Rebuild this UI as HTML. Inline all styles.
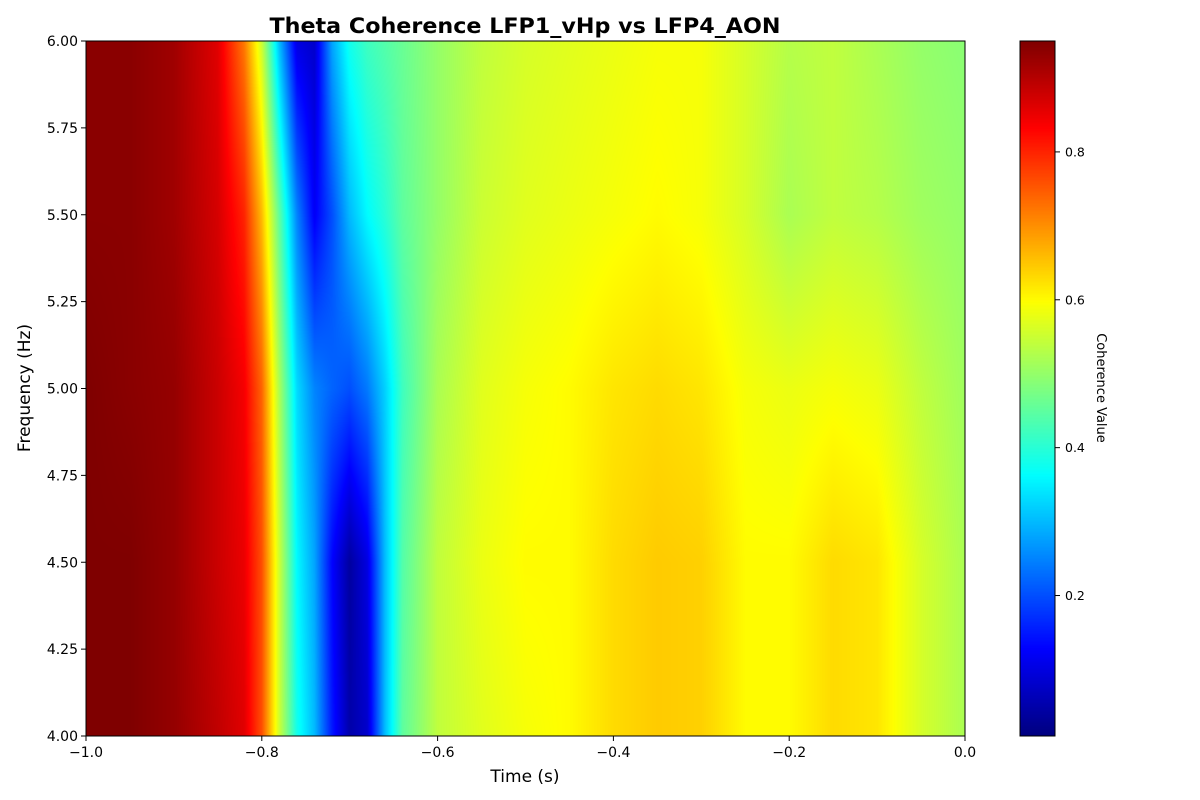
<!DOCTYPE html>
<html><head><meta charset="utf-8">
<style>
html,body{margin:0;padding:0;background:#fff;}
#wrap{position:relative;width:1200px;height:800px;font-family:"DejaVu Sans","Liberation Sans",sans-serif;}
canvas{position:absolute;}
svg{position:absolute;left:0;top:0;font-family:"DejaVu Sans","Liberation Sans",sans-serif;}
</style></head>
<body>
<div id="wrap">
<canvas id="hm" width="879" height="695" style="left:86px;top:41px;"></canvas>
<canvas id="cb" width="35" height="695" style="left:1020px;top:41px;"></canvas>
<svg id="ax" width="1200" height="800"></svg>
</div>
<script>
const times = [-1.0,-0.95,-0.9,-0.85,-0.82,-0.8,-0.78,-0.76,-0.74,-0.72,-0.7,-0.68,-0.66,-0.64,-0.6,-0.55,-0.5,-0.45,-0.4,-0.35,-0.3,-0.25,-0.2,-0.15,-0.1,-0.05,0];
const freqs = [4.0,4.5,5.0,5.5,6.0];
const row40 = [0.95,0.95,0.93,0.89,0.86,0.76,0.55,0.38,0.3,0.15,0.05,0.08,0.3,0.45,0.54,0.57,0.59,0.6,0.63,0.645,0.64,0.6,0.6,0.63,0.62,0.56,0.52];
const row45 = [0.95,0.95,0.93,0.88,0.85,0.76,0.55,0.36,0.28,0.13,0.04,0.1,0.3,0.44,0.54,0.58,0.6,0.6,0.63,0.645,0.64,0.6,0.6,0.63,0.62,0.56,0.52];
const row50 = [0.95,0.94,0.93,0.88,0.84,0.74,0.52,0.33,0.25,0.22,0.2,0.24,0.32,0.42,0.52,0.57,0.59,0.6,0.62,0.63,0.62,0.59,0.58,0.59,0.58,0.54,0.51];
const row55 = [0.94,0.94,0.92,0.87,0.8,0.66,0.45,0.25,0.12,0.2,0.3,0.36,0.4,0.45,0.5,0.55,0.57,0.58,0.59,0.6,0.59,0.56,0.52,0.54,0.53,0.51,0.5];
const row60 = [0.94,0.94,0.92,0.86,0.72,0.55,0.3,0.1,0.08,0.28,0.38,0.42,0.44,0.46,0.5,0.54,0.56,0.57,0.58,0.59,0.59,0.56,0.53,0.54,0.52,0.5,0.49];
const xTicks = [-1.0,-0.8,-0.6,-0.4,-0.2,0.0];
const xTickLabels = ["−1.0","−0.8","−0.6","−0.4","−0.2","0.0"];
const yTicks = [4.0,4.25,4.5,4.75,5.0,5.25,5.5,5.75,6.0];
const yTickLabels = ["4.00","4.25","4.50","4.75","5.00","5.25","5.50","5.75","6.00"];
const cTicks = [0.2,0.4,0.6,0.8];
const cTickLabels = ["0.2","0.4","0.6","0.8"];
const vmin = 0.01, vmax = 0.95;

const rows = [row40,row45,row50,row55,row60];
const PL=86,PT=41,PW=879,PH=695;
const xs = t => PL + (t - (-1)) / 1 * PW;
const ys = f => PT + PH - (f - 4) / 2 * PH;

function jet(v){
  let x = Math.max(0,Math.min(1,(v-vmin)/(vmax-vmin)));
  const c = t => Math.max(0,Math.min(1,t));
  const r = c(Math.min(4*x-1.5, -4*x+4.5));
  const g = c(Math.min(4*x-0.5, -4*x+3.5));
  const b = c(Math.min(4*x+0.5, -4*x+2.5));
  return [r*255|0,g*255|0,b*255|0];
}
function sample(t,f){
  let i=0; while(i<times.length-2 && times[i+1]<t) i++;
  let u=(t-times[i])/(times[i+1]-times[i]); u=Math.max(0,Math.min(1,u));
  let j=0; while(j<freqs.length-2 && freqs[j+1]<f) j++;
  let w=(f-freqs[j])/(freqs[j+1]-freqs[j]); w=Math.max(0,Math.min(1,w));
  const a=rows[j][i]*(1-u)+rows[j][i+1]*u;
  const b=rows[j+1][i]*(1-u)+rows[j+1][i+1]*u;
  return a*(1-w)+b*w;
}
(function(){
  const ctx=document.getElementById('hm').getContext('2d');
  const img=ctx.createImageData(PW,PH);
  for(let py=0;py<PH;py++){
    const f=4+(PH-py-0.5)/PH*2;
    for(let px=0;px<PW;px++){
      const t=-1+(px+0.5)/PW;
      const [r,g,b]=jet(sample(t,f));
      const k=(py*PW+px)*4;
      img.data[k]=r;img.data[k+1]=g;img.data[k+2]=b;img.data[k+3]=255;
    }
  }
  ctx.putImageData(img,0,0);
  const cc=document.getElementById('cb').getContext('2d');
  for(let py=0;py<PH;py++){
    const v=vmin+(PH-py-0.5)/PH*(vmax-vmin);
    const [r,g,b]=jet(v);
    cc.fillStyle=`rgb(${r},${g},${b})`;cc.fillRect(0,py,35,1);
  }
})();
const svg=document.getElementById('ax');
const NS='http://www.w3.org/2000/svg';
function mk(tag,attrs,text){const e=document.createElementNS(NS,tag);for(const k in attrs)e.setAttribute(k,attrs[k]);if(text!==undefined)e.textContent=text;svg.appendChild(e);return e;}
let e;
e=mk('rect',{x:PL,y:PT,width:PW,height:PH,fill:'none',stroke:'#000','stroke-width':1});


e=mk('rect',{x:1020,y:PT,width:35,height:PH,fill:'none',stroke:'#000','stroke-width':1});


xTicks.forEach((t,i)=>{
  const x=xs(t);
  e=mk('line',{x1:x,x2:x,y1:PT+PH,y2:PT+PH+5,stroke:'#000'});
  
  
  e=mk('text',{x:x,y:PT+PH+21,'text-anchor':'middle','font-size':14},xTickLabels[i]);
  
  
});
yTicks.forEach((f,i)=>{
  const y=ys(f);
  e=mk('line',{x1:PL-5,x2:PL,y1:y,y2:y,stroke:'#000'});
  
  
  e=mk('text',{x:PL-8,y:y+5,'text-anchor':'end','font-size':14},yTickLabels[i]);
  
  
});
cTicks.forEach((v,i)=>{
  const y=PT+PH-(v-vmin)/(vmax-vmin)*PH;
  e=mk('line',{x1:1055,x2:1060,y1:y,y2:y,stroke:'#000'});
  
  
  e=mk('text',{x:1065,y:y+4.5,'font-size':12.5},cTickLabels[i]);
  
  
});
e=mk('text',{x:525,y:33,'text-anchor':'middle','font-size':21,'font-weight':'bold',textLength:511,lengthAdjust:'spacingAndGlyphs'},'Theta Coherence LFP1_vHp vs LFP4_AON');


e=mk('text',{x:525,y:782,'text-anchor':'middle','font-size':17},'Time (s)');


e=mk('text',{x:0,y:0,'text-anchor':'middle','font-size':17,transform:'translate(30,388) rotate(-90)'},'Frequency (Hz)');


e=mk('text',{x:0,y:0,'text-anchor':'middle','font-size':13,transform:'translate(1097,388) rotate(90)'},'Coherence Value');


</script>
</body></html>
